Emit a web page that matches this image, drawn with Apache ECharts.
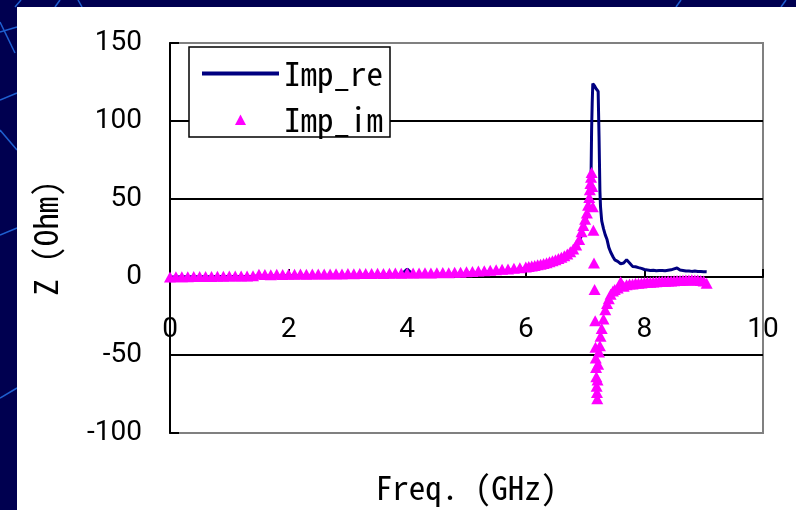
<!DOCTYPE html>
<html>
<head>
<meta charset="utf-8">
<title>Impedance vs Frequency</title>
<script src="https://cdn.jsdelivr.net/npm/echarts@6/dist/echarts.min.js"></script>
<style>
  html, body { margin: 0; padding: 0; background: #000050; }
  #chart { width: 796px; height: 510px; }
</style>
</head>
<body>
<div id="chart"></div>
<script>
// Frequency sweep (GHz) and measured impedance (Ohm)
const freqGHz = [
  0.0, 0.1, 0.2, 0.3, 0.4, 0.5, 0.6, 0.7, 0.8, 0.9,
  1.0, 1.1, 1.2, 1.3, 1.4, 1.5, 1.6, 1.7, 1.8, 1.9,
  2.0, 2.1, 2.2, 2.3, 2.4, 2.5, 2.6, 2.7, 2.8, 2.9,
  3.0, 3.1, 3.2, 3.3, 3.4, 3.5, 3.6, 3.7, 3.8, 3.9,
  4.0, 4.1, 4.2, 4.3, 4.4, 4.5, 4.6, 4.7, 4.8, 4.9,
  5.0, 5.1, 5.2, 5.3, 5.4, 5.5, 5.6, 5.7, 5.8, 5.9,
  6.0,
  6.05, 6.1, 6.15, 6.2, 6.25, 6.3, 6.35, 6.4, 6.45, 6.5,
  6.55, 6.6, 6.65, 6.7, 6.75, 6.8, 6.85, 6.9,
  6.94, 6.97, 7.00, 7.03, 7.05, 7.07, 7.08, 7.09, 7.10, 7.11,
  7.12, 7.13, 7.14, 7.15, 7.16, 7.17, 7.175, 7.18, 7.185, 7.19,
  7.195, 7.20, 7.205, 7.21, 7.22, 7.235, 7.25, 7.26, 7.28, 7.31,
  7.34, 7.37, 7.40, 7.43, 7.47, 7.50, 7.55, 7.60, 7.65, 7.70,
  7.75, 7.80, 7.85, 7.90, 7.95,
  8.00, 8.05, 8.10, 8.15, 8.20, 8.25, 8.30, 8.35, 8.40, 8.45,
  8.50, 8.55, 8.60, 8.65, 8.70, 8.75, 8.80, 8.85, 8.90, 8.95,
  9.00, 9.05
];

const impRe = [
  0.0, 0.0, 0.1, 0.1, 0.1, 0.2, 0.2, 0.2, 0.3, 0.3,
  0.3, 0.3, 0.4, 0.4, 0.4, 0.8, 0.7, 0.7, 0.8, 0.8,
  0.9, 0.9, 0.9, 0.9, 1.0, 1.0, 1.0, 1.1, 1.1, 1.1,
  1.2, 1.2, 1.2, 1.3, 1.3, 1.3, 1.4, 1.4, 1.4, 1.5,
  5.0, 1.5, 1.6, 1.6, 1.6, 1.7, 1.7, 1.8, 1.8, 1.9,
  2.4, 2.6, 2.8, 3.0, 3.3, 3.6, 3.9, 4.2, 4.6, 5.0,
  5.4,
  5.7, 6.0, 6.4, 6.8, 7.2, 7.7, 8.2, 8.8, 9.4, 10.0,
  10.6, 11.4, 12.3, 13.3, 14.6, 16.3, 18.7, 22.0,
  27, 31, 35, 39, 44, 49, 54, 58, 64, 95,
  112, 124, 123.5, 123, 122.5, 122, 121.5, 121, 121, 121,
  121, 121, 121, 120, 119, 90, 55, 45, 36, 31,
  27, 24, 19, 16, 13, 11, 10, 8.5, 9, 11,
  9, 6.8, 6.6, 6.0, 5.5,
  4.8, 4.5, 4.2, 4.3, 4.0, 4.1, 4.2, 4.0, 4.3, 4.6,
  5.2, 5.8, 4.5, 4.2, 3.8, 3.9, 3.6, 3.8, 3.5, 3.5,
  3.4, 3.3
];

const impIm = [
  0.0, 0.1, 0.2, 0.2, 0.3, 0.3, 0.4, 0.4, 0.5, 0.5,
  0.6, 0.6, 0.7, 0.7, 0.8, 1.8, 1.6, 1.5, 1.7, 1.6,
  1.8, 1.7, 1.9, 1.8, 1.9, 2.0, 1.9, 2.0, 2.1, 2.0,
  2.2, 2.1, 2.2, 2.3, 2.2, 2.4, 2.3, 2.4, 2.5, 2.4,
  2.6, 2.5, 2.6, 2.7, 2.6, 2.8, 2.9, 2.8, 3.0, 3.1,
  3.4, 3.6, 3.8, 4.0, 4.3, 4.6, 4.9, 5.2, 5.6, 6.0,
  6.4,
  6.7, 7.0, 7.4, 7.8, 8.2, 8.7, 9.2, 9.8, 10.4, 11.0,
  11.8, 12.7, 13.7, 14.8, 16.2, 18.0, 20.5, 24.0,
  29, 33, 37, 41, 46, 51, 56, 60, 64, 67,
  58, 45, 30, 9, -8, -28, -45, -52, -58, -64,
  -70, -74, -78, -66, -56, -48, -44, -38, -33, -27,
  -21, -17, -14, -11, -9, -8, -7, -3, -6, -5,
  -4.5, -4.5, -4.0, -4.0, -3.8,
  -3.5, -3.4, -3.3, -3.2, -3.0, -2.9, -2.8, -2.7, -2.6, -2.5,
  -2.4, -2.3, -2.2, -2.1, -2.0, -1.9, -1.8, -1.9, -2.0, -2.2,
  -2.5, -4.0
];

const seriesNames = ['Imp_re', 'Imp_im'];
const xTitle = 'Freq. (GHz)';
const yTitle = 'Z (Ohm)';

const monoFont = '"Noto Sans Mono CJK JP", "DejaVu Sans Mono", monospace';
const numFont = 'Roboto, "Noto Sans", sans-serif';

const reData = freqGHz.map((f, i) => [f, impRe[i]]);
const imData = freqGHz.map((f, i) => [f, impIm[i]]);

// legend marker: a small triangle centred in the full 77x11 icon box
const triangleIcon = 'path://M0,11L0,11M77,0L77,0M33,11L38.5,0.5L44,11Z';

const chart = echarts.init(document.getElementById('chart'), null, { renderer: 'canvas' });

// decorative strokes in the dark frame around the white panel
const frameLines = [
  [15, 7, 21, 0], [55, 7, 60, 0], [78, 0, 82, 7], [676, 7, 681, 0], [781, 7, 786, 0],
  [0, 32, 17, 27], [0, 22, 15, 53], [0, 100, 17, 93], [0, 130, 17, 150],
  [0, 235, 17, 228], [0, 398, 17, 388]
];

chart.setOption({
  backgroundColor: '#000050',
  animation: false,
  graphic: [
    ...frameLines.map(l => ({
      type: 'line', z: -20, silent: true,
      shape: { x1: l[0], y1: l[1], x2: l[2], y2: l[3] },
      style: { stroke: '#1f5fd0', lineWidth: 1.5 }
    })),
    {
      type: 'rect', z: -10, silent: true,
      shape: { x: 17, y: 7, width: 779, height: 503 },
      style: { fill: '#ffffff' }
    }
  ],
  grid: {
    left: 170, right: 33, top: 43, bottom: 77,
    containLabel: false,
    outerBoundsMode: 'none',
    show: true, borderColor: '#808080', borderWidth: 2, backgroundColor: 'transparent'
  },
  legend: {
    orient: 'vertical',
    left: 189, top: 47,
    padding: [10, 7, 1, 11],
    itemWidth: 77, itemHeight: 11, itemGap: 13,
    backgroundColor: '#ffffff',
    borderColor: '#000000', borderWidth: 1.5, borderRadius: 0,
    textStyle: { fontFamily: monoFont, fontSize: 33, lineHeight: 32, color: '#000' },
    data: [
      {
        name: seriesNames[0],
        lineStyle: { width: 4 },
        itemStyle: { color: 'rgba(0,0,0,0)', borderWidth: 0 }
      },
      { name: seriesNames[1], icon: triangleIcon, itemStyle: { opacity: 1 } }
    ]
  },
  xAxis: {
    type: 'value', min: 0, max: 10, interval: 2,
    // labels and title sit under the zero line, which crosses the plot mid-height
    name: xTitle, nameLocation: 'middle', nameGap: 38,
    nameTextStyle: { fontFamily: monoFont, fontSize: 33, color: '#000' },
    axisLine: { onZero: true, onZeroAxisIndex: 0, lineStyle: { color: '#000', width: 2 } },
    axisTick: { show: true, inside: true, length: 8, lineStyle: { color: '#000', width: 2 } },
    axisLabel: { margin: -117, fontFamily: numFont, fontSize: 28, color: '#000' },
    splitLine: { show: false }
  },
  yAxis: {
    type: 'value', min: -100, max: 150, interval: 50,
    name: yTitle, nameLocation: 'middle', nameRotate: 90, nameGap: 108,
    nameTextStyle: { fontFamily: monoFont, fontSize: 33, color: '#000' },
    axisLine: { show: true, onZero: false, lineStyle: { color: '#000', width: 2 } },
    axisTick: { show: true, inside: true, length: 9, lineStyle: { color: '#000', width: 2 } },
    axisLabel: { margin: 28, fontFamily: numFont, fontSize: 28, color: '#000', padding: [6, 0, 0, 0] },
    splitLine: {
      show: true,
      lineStyle: { color: ['#808080', '#000', '#000', '#000', '#000', '#808080'], width: 2 }
    }
  },
  series: [
    {
      name: seriesNames[0], type: 'line', data: reData, z: 2,
      symbol: 'none', showSymbol: false,
      lineStyle: { color: '#000080', width: 3 },
      itemStyle: { color: '#000080' }
    },
    {
      name: seriesNames[1], type: 'scatter', data: imData, z: 3,
      symbol: 'triangle', symbolSize: [12, 11],
      itemStyle: { color: '#ff00ff', opacity: 1 }
    }
  ]
});
</script>
</body>
</html>
